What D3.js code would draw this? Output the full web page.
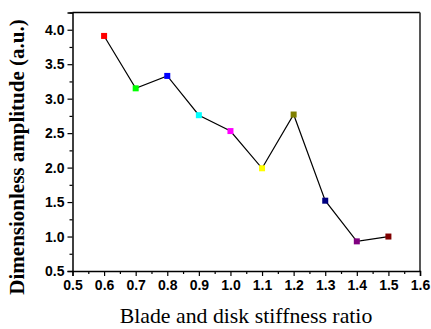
<!DOCTYPE html>
<html>
<head>
<meta charset="utf-8">
<script src="https://cdn.jsdelivr.net/npm/d3@7"></script>
<style>
  html, body { margin: 0; padding: 0; background: #fff; }
  svg { display: block; }
</style>
</head>
<body>
<svg id="chart" width="431" height="329"></svg>
<script>
// Stiffness ratio vs. dimensionless amplitude
const ratios = [0.6, 0.7, 0.8, 0.9, 1.0, 1.1, 1.2, 1.3, 1.4, 1.5];
const amplitudes = [3.91, 3.15, 3.33, 2.76, 2.53, 1.99, 2.77, 1.52, 0.93, 1.00];
const markerColors = ["#ff0000", "#00ff00", "#0000ff", "#00ffff", "#ff00ff",
                      "#ffff00", "#808000", "#000080", "#800080", "#800000"];
const xTicks = [0.5, 0.6, 0.7, 0.8, 0.9, 1.0, 1.1, 1.2, 1.3, 1.4, 1.5, 1.6];
const yTicks = [0.5, 1.0, 1.5, 2.0, 2.5, 3.0, 3.5, 4.0];
const xLabel = "Blade and disk stiffness ratio";
const yLabel = "Dimensionless amplitude (a.u.)";

const svg = d3.select("#chart");
const plot = { left: 72.5, top: 12.5, right: 420, bottom: 271 };

const x = d3.scaleLinear().domain([0.5, 1.6]).range([plot.left, plot.right]);
const y = d3.scaleLinear().domain([0.5, 4.25]).range([plot.bottom, plot.top]);

// frame: top and right edges
svg.append("path")
  .attr("d", `M${plot.left},${plot.top}H${plot.right}`)
  .attr("fill", "none").attr("stroke", "#000").attr("stroke-width", 1.5);
svg.append("path")
  .attr("d", `M${plot.right},${plot.top}V${plot.bottom}`)
  .attr("fill", "none").attr("stroke", "#444").attr("stroke-width", 1.8);

// minor ticks
const xMinor = d3.range(11).map(i => 0.55 + i * 0.1);
const yMinor = d3.range(8).map(i => 0.75 + i * 0.5);

svg.append("g")
  .attr("transform", `translate(0,${plot.bottom})`)
  .call(d3.axisBottom(x).tickValues(xTicks).tickFormat(d3.format(".1f")).tickSize(5).tickPadding(4));
svg.append("g")
  .attr("transform", `translate(0,${plot.bottom})`)
  .call(d3.axisBottom(x).tickValues(xMinor).tickFormat("").tickSize(3))
  .call(g => g.select(".domain").remove());

svg.append("g")
  .attr("transform", `translate(${plot.left},0)`)
  .call(d3.axisLeft(y).tickValues(yTicks).tickFormat(d3.format(".1f")).tickSize(5).tickPadding(3));
svg.append("g")
  .attr("transform", `translate(${plot.left},0)`)
  .call(d3.axisLeft(y).tickValues(yMinor).tickFormat("").tickSize(3))
  .call(g => g.select(".domain").remove());

svg.selectAll(".domain").attr("stroke-width", 1.5);
svg.selectAll(".tick line").attr("stroke-width", 1.2);
svg.selectAll(".tick text")
  .attr("font-family", "'Liberation Sans', Arial, sans-serif")
  .attr("font-weight", "bold")
  .attr("font-size", 14)
  .attr("fill", "#000");

// data line
svg.append("path")
  .datum(ratios.map((r, i) => [r, amplitudes[i]]))
  .attr("fill", "none")
  .attr("stroke", "#000")
  .attr("stroke-width", 1.2)
  .attr("d", d3.line().x(d => x(d[0])).y(d => y(d[1])));

// square markers
const m = 6;
svg.append("g").selectAll("rect")
  .data(ratios)
  .join("rect")
  .attr("x", (r) => x(r) - m / 2)
  .attr("y", (r, i) => y(amplitudes[i]) - m / 2)
  .attr("width", m).attr("height", m)
  .attr("fill", (r, i) => markerColors[i]);

// axis titles
svg.append("text")
  .attr("x", 246)
  .attr("y", 323)
  .attr("text-anchor", "middle")
  .attr("font-family", "'Liberation Serif', 'Times New Roman', serif")
  .attr("font-size", 21.8)
  .text(xLabel);

svg.append("text")
  .attr("transform", `translate(24,157) rotate(-90)`)
  .attr("text-anchor", "middle")
  .attr("font-family", "'Liberation Serif', 'Times New Roman', serif")
  .attr("font-weight", "bold")
  .attr("font-size", 21)
  .text(yLabel);
</script>
</body>
</html>
